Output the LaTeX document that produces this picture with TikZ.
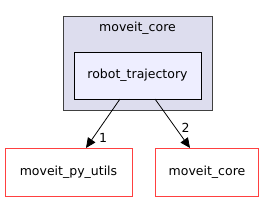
\documentclass[tikz,border=0pt]{standalone}
\usepackage{fontspec}
\setmainfont{DejaVu Sans}
\usetikzlibrary{arrows.meta}

\definecolor{clusterfill}{HTML}{DDDDEE}
\definecolor{dirfill}{HTML}{EEEEFF}
\definecolor{dirred}{HTML}{FF4040}
\definecolor{edgegray}{HTML}{404040}

\begin{document}
\begin{tikzpicture}
[
	lbl/.style={font=\fontsize{12.5}{15}\selectfont,inner sep=1pt},
	cluster/.style={draw=edgegray,fill=clusterfill,thick},
	dirnode/.style={lbl,draw=black,fill=dirfill,thick,minimum width=127pt,minimum height=47pt,inner sep=0pt},
	extnode/.style={lbl,draw=dirred,fill=white,thick,minimum height=48pt,inner sep=0pt},
	dep/.style={-{Triangle[length=10pt,width=9pt]},thick},
	x=1pt,y=-1pt
]

	\useasboundingbox (0,0) rectangle (264,201);

	% cluster
	\draw[cluster] (63,16) rectangle (212,110);
	\node[lbl] at (137.5,28) (title) {moveit\_core};

	\node[dirnode] at (137.5,75.5) (traj) {robot\_trajectory};

	\node[extnode,minimum width=127pt] at (68.5,172) (pyutils) {moveit\_py\_utils};
	\node[extnode,minimum width=103pt] at (207,172) (core) {moveit\_core};

	% edges
	\coordinate (s1) at (120,99);
	\coordinate (e1) at (86,148);
	\coordinate (s2) at (155,99);
	\coordinate (e2) at (190,148);
	\draw[dep] (s1) -- (e1);
	\draw[dep] (s2) -- (e2);
	\node[lbl] at (103,138) (n1) {1};
	\node[lbl] at (185.5,127.5) (n2) {2};

\end{tikzpicture}
\end{document}
